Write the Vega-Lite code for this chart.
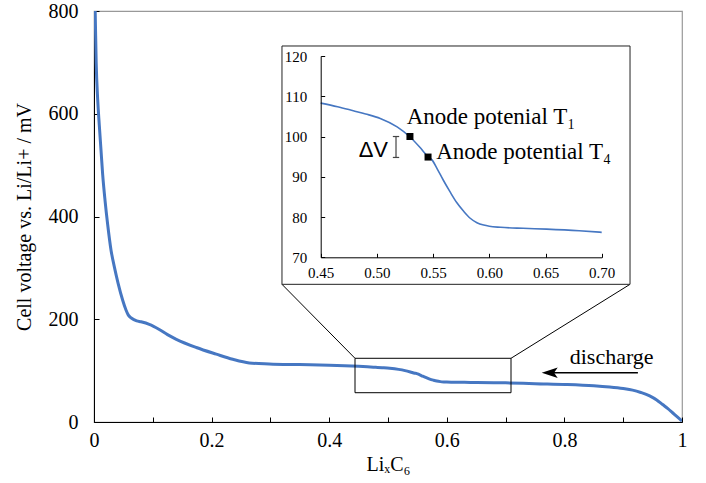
{
  "$schema": "https://vega.github.io/schema/vega-lite/v6.json",
  "autosize": "none",
  "width": 588,
  "height": 411,
  "padding": {"left": 94, "top": 11, "right": 24, "bottom": 61},
  "config": {
    "view": {"stroke": "#999", "strokeWidth": 1.2},
    "axis": {"labelFlush": false, "grid": false, "domainColor": "black", "tickColor": "black", "labelColor": "black", "titleColor": "black", "labelFont": "Liberation Serif", "titleFont": "Liberation Serif", "titleFontWeight": "normal", "labelOverlap": false}
  },
  "datasets": {
    "curve": [
      {"x": 0.0005, "v": 860}, {"x": 0.002, "v": 800}, {"x": 0.0037, "v": 700}, {"x": 0.0063, "v": 627},
      {"x": 0.009, "v": 578}, {"x": 0.0119, "v": 529}, {"x": 0.0148, "v": 481}, {"x": 0.0187, "v": 432},
      {"x": 0.0233, "v": 384}, {"x": 0.0289, "v": 335}, {"x": 0.0346, "v": 302}, {"x": 0.041, "v": 270},
      {"x": 0.0488, "v": 237}, {"x": 0.0544, "v": 218}, {"x": 0.0584, "v": 208}, {"x": 0.064, "v": 202},
      {"x": 0.0726, "v": 197}, {"x": 0.08, "v": 195}, {"x": 0.094, "v": 190}, {"x": 0.111, "v": 180},
      {"x": 0.125, "v": 170}, {"x": 0.14, "v": 161}, {"x": 0.174, "v": 145}, {"x": 0.208, "v": 132},
      {"x": 0.236, "v": 122}, {"x": 0.264, "v": 115}, {"x": 0.298, "v": 113}, {"x": 0.349, "v": 111.7},
      {"x": 0.4, "v": 110.5}, {"x": 0.45, "v": 108.3}, {"x": 0.465, "v": 107.4}, {"x": 0.479, "v": 106.4},
      {"x": 0.49, "v": 105.6}, {"x": 0.503, "v": 104.5}, {"x": 0.518, "v": 102.4}, {"x": 0.529, "v": 100},
      {"x": 0.538, "v": 97.4}, {"x": 0.5455, "v": 95}, {"x": 0.549, "v": 94.2}, {"x": 0.554, "v": 91.8},
      {"x": 0.559, "v": 89.2}, {"x": 0.565, "v": 86.3}, {"x": 0.571, "v": 83.6}, {"x": 0.577, "v": 81.5},
      {"x": 0.583, "v": 79.7}, {"x": 0.589, "v": 78.6}, {"x": 0.595, "v": 78.0}, {"x": 0.6, "v": 77.7},
      {"x": 0.61, "v": 77.45}, {"x": 0.63, "v": 77.2}, {"x": 0.651, "v": 77.0}, {"x": 0.68, "v": 76.6},
      {"x": 0.7, "v": 76.2}, {"x": 0.75, "v": 74.5}, {"x": 0.803, "v": 73}, {"x": 0.85, "v": 70.5},
      {"x": 0.877, "v": 68}, {"x": 0.9, "v": 65}, {"x": 0.916, "v": 62}, {"x": 0.93, "v": 57.5},
      {"x": 0.945, "v": 51}, {"x": 0.957, "v": 43}, {"x": 0.967, "v": 34}, {"x": 0.976, "v": 26},
      {"x": 0.984, "v": 18}, {"x": 0.992, "v": 10}, {"x": 1.0, "v": 2}
    ]
  },
  "layer": [
    {
      "encoding": {
        "x": {"field": "x", "type": "quantitative", "scale": {"domain": [0, 1], "nice": false, "zero": false},
          "axis": {"values": [0, 0.1, 0.2, 0.3, 0.4, 0.5, 0.6, 0.7, 0.8, 0.9, 1], "format": ".1~f",
            "labelExpr": "round(datum.value*10)%2==0 ? datum.label : ''",
            "tickSize": -5, "labelPadding": 13, "labelFontSize": 20, "title": "LiₓC₆", "titleFontSize": 20, "titlePadding": 4}},
        "y": {"field": "v", "type": "quantitative", "scale": {"domain": [0, 800], "nice": false, "zero": false},
          "axis": {"values": [0, 200, 400, 600, 800], "tickSize": -5, "labelPadding": 21, "labelFontSize": 20,
            "title": "Cell voltage vs. Li/Li+ / mV", "titleFontSize": 20, "titlePadding": 14}}
      },
      "layer": [
        {"data": {"name": "curve"}, "mark": {"type": "line", "color": "#4677c2", "strokeWidth": 3, "clip": true, "interpolate": "monotone"}},
        {"data": {"values": [{"x": 0.4439, "x2": 0.7092, "v": 57, "v2": 124}]},
          "mark": {"type": "rect", "fillOpacity": 0, "stroke": "black", "strokeWidth": 1},
          "encoding": {"x2": {"field": "x2"}, "y2": {"field": "v2"}}},
        {"data": {"values": [{"x": 0.4439, "v": 124, "x2": 0.3197, "v2": 268}, {"x": 0.7092, "v": 124, "x2": 0.9116, "v2": 268}]},
          "mark": {"type": "rule", "color": "black", "strokeWidth": 1},
          "encoding": {"x2": {"field": "x2"}, "y2": {"field": "v2"}}},
        {"data": {"values": [{"x": 0.3197, "x2": 0.9116, "v": 268, "v2": 731.9}]},
          "mark": {"type": "rect", "fill": "white", "stroke": "#222", "strokeWidth": 1},
          "encoding": {"x2": {"field": "x2"}, "y2": {"field": "v2"}}},
        {"data": {"values": [{"x": 0.775, "x2": 0.925, "v": 96}]},
          "mark": {"type": "rule", "color": "black", "strokeWidth": 1.6},
          "encoding": {"x2": {"field": "x2"}}},
        {"data": {"values": [{"x": 0.775, "v": 96}]},
          "mark": {"type": "point", "shape": "M -1 0 L 1 -0.65 L 0.55 0 L 1 0.65 Z", "size": 256, "filled": true, "color": "black", "opacity": 1}},
        {"data": {"values": [{"x": 0.8804, "v": 113, "t": "discharge"}]},
          "mark": {"type": "text", "font": "Liberation Serif", "fontSize": 22, "baseline": "alphabetic", "align": "center", "color": "black"},
          "encoding": {"text": {"field": "t"}}}
      ]
    },
    {
      "encoding": {
        "x": {"field": "x", "type": "quantitative", "scale": {"domain": [0.45, 0.7], "range": [226.7, 507.7], "nice": false, "zero": false},
          "axis": {"orient": "bottom", "offset": -164.7, "zindex": 1, "values": [0.45, 0.5, 0.55, 0.6, 0.65, 0.7], "format": ".2f",
            "tickSize": -4, "labelPadding": 12, "labelFontSize": 15, "title": null}},
        "y": {"field": "v", "type": "quantitative", "scale": {"domain": [70, 120], "range": [246.3, 45], "nice": false, "zero": false},
          "axis": {"orient": "left", "offset": -226.7, "zindex": 1, "values": [70, 80, 90, 100, 110, 120],
            "tickSize": -4, "labelPadding": 18, "labelFontSize": 15, "title": null}}
      },
      "layer": [
        {"data": {"name": "curve"}, "transform": [{"filter": "datum.x >= 0.45 && datum.x <= 0.7"}],
          "mark": {"type": "line", "color": "#4677c2", "strokeWidth": 1.6, "interpolate": "monotone"}},
        {"data": {"values": [{"x": 0.5294, "v": 100}, {"x": 0.5455, "v": 94.9}]},
          "mark": {"type": "point", "shape": "square", "size": 49, "filled": true, "color": "black", "opacity": 1}},
        {"data": {"values": [{"x": 0.517, "v": 94.8, "v2": 100}]},
          "mark": {"type": "rule", "color": "#444", "strokeWidth": 1.2},
          "encoding": {"y2": {"field": "v2"}}},
        {"data": {"values": [{"x": 0.517, "v": 94.8}, {"x": 0.517, "v": 100}]},
          "mark": {"type": "point", "shape": "stroke", "size": 40, "color": "#444", "strokeWidth": 1.2, "opacity": 1}},
        {"data": {"values": [{"x": 0.5099, "v": 96.6, "t": "ΔV"}]},
          "mark": {"type": "text", "font": "Liberation Sans", "fontSize": 22, "baseline": "middle", "align": "right", "color": "black"},
          "encoding": {"text": {"field": "t"}}},
        {"data": {"values": [{"x": 0.5265, "v": 103.1, "t": "Anode potenial T₁"}, {"x": 0.5527, "v": 94.4, "t": "Anode potential T₄"}]},
          "mark": {"type": "text", "font": "Liberation Serif", "fontSize": 23, "baseline": "alphabetic", "align": "left", "color": "black"},
          "encoding": {"text": {"field": "t"}}}
      ]
    }
  ],
  "resolve": {"scale": {"x": "independent", "y": "independent"}, "axis": {"x": "independent", "y": "independent"}}
}
